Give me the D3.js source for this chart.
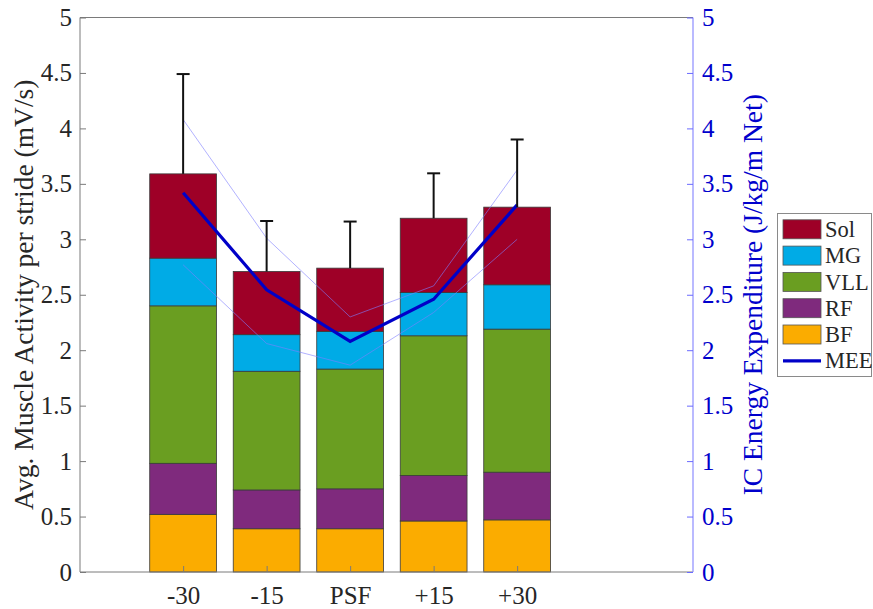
<!DOCTYPE html>
<html>
<head>
<meta charset="utf-8">
<script src="https://cdn.jsdelivr.net/npm/d3@7"></script>
<style>
  html, body { margin: 0; padding: 0; background: #fff; }
  svg { display: block; }
  svg text { font-family: "Liberation Serif", "Times New Roman", "DejaVu Serif", serif; }
</style>
</head>
<body>
<svg id="chart" width="873" height="609"></svg>
<script>
// Conditions on the x axis
const categories = ["-30", "-15", "PSF", "+15", "+30"];

// Mean muscle activity per stride (mV/s), stacked bottom to top
const BF  = [0.52, 0.39, 0.39, 0.46, 0.47];
const RF  = [0.46, 0.35, 0.36, 0.41, 0.43];
const VLL = [1.42, 1.07, 1.08, 1.26, 1.29];
const MG  = [0.43, 0.33, 0.34, 0.39, 0.40];
const Sol = [0.76, 0.57, 0.57, 0.67, 0.70];

// Upper error of the total activity
const errTop = [4.49, 3.165, 3.16, 3.595, 3.90];

// Metabolic energy expenditure (J/kg/m net) with its upper and lower band
const MEE      = [3.42, 2.545, 2.08, 2.46, 3.31];
const MEEupper = [4.08, 3.01, 2.30, 2.58, 3.625];
const MEElower = [2.77, 2.06, 1.865, 2.34, 3.00];

const muscles = ["BF", "RF", "VLL", "MG", "Sol"];
const muscleData = { BF, RF, VLL, MG, Sol };
const colors = {
  Sol: "#9e0027",
  MG:  "#00abe6",
  VLL: "#6a9e21",
  RF:  "#7f2a7d",
  BF:  "#fbac00"
};

const yTicks = [0, 0.5, 1, 1.5, 2, 2.5, 3, 3.5, 4, 4.5, 5];

const svg = d3.select("#chart");
const plotL = 80, plotR = 693, plotT = 17.5, plotB = 572;
const serif = "'Liberation Serif', 'Times New Roman', 'DejaVu Serif', serif";

// category index scale (index 0..4) with the axis limits padded on both sides
const x = d3.scaleLinear().domain([-1.235, 6.106]).range([plotL, plotR]);
const step = x(1) - x(0);
const barW = step * 0.8;
const yL = d3.scaleLinear().domain([0, 5]).range([plotB, plotT]);
const yR = d3.scaleLinear().domain([0, 5]).range([plotB, plotT]);

const tickFont = 25, labelFont = 27.5, legendFont = 22.5;

// stacked bars
const rows = categories.map((c, i) => {
  const r = { i };
  muscles.forEach(m => r[m] = muscleData[m][i]);
  return r;
});
const stacked = d3.stack().keys(muscles)(rows);

const gBars = svg.append("g");
stacked.forEach(layer => {
  gBars.selectAll(null)
    .data(layer)
    .enter()
    .append("rect")
    .attr("x", d => x(d.data.i) - barW / 2)
    .attr("width", barW)
    .attr("y", d => yL(d[1]))
    .attr("height", d => yL(d[0]) - yL(d[1]))
    .attr("fill", colors[layer.key])
    .attr("stroke", "#3a3a3a")
    .attr("stroke-width", 0.8);
});

// axes frame
const axisGray = "#7a7a7a";
svg.append("line").attr("x1", plotL).attr("x2", plotR).attr("y1", plotT).attr("y2", plotT)
  .attr("stroke", axisGray).attr("stroke-width", 1);
svg.append("line").attr("x1", plotL).attr("x2", plotR).attr("y1", plotB).attr("y2", plotB)
  .attr("stroke", axisGray).attr("stroke-width", 1);
svg.append("line").attr("x1", plotL).attr("x2", plotL).attr("y1", plotT).attr("y2", plotB)
  .attr("stroke", axisGray).attr("stroke-width", 1);
svg.append("line").attr("x1", plotR).attr("x2", plotR).attr("y1", plotT).attr("y2", plotB)
  .attr("stroke", "#8c8cff").attr("stroke-width", 1.2);

function styleTicks(g, color, tickColor) {
  g.attr("font-family", serif).attr("font-size", tickFont);
  g.select(".domain").remove();
  g.selectAll(".tick line").attr("stroke", tickColor);
  g.selectAll(".tick text").attr("fill", color).style("font-family", serif)
    .style("font-size", tickFont + "px");
}

// left axis (ticks point inward)
const leftAxis = d3.axisLeft(yL).tickValues(yTicks).tickSize(-6).tickPadding(8)
  .tickFormat(d3.format("~g"));
const gL = svg.append("g").attr("transform", `translate(${plotL},0)`).call(leftAxis);
styleTicks(gL, "#262626", axisGray);

// right axis
const rightAxis = d3.axisRight(yR).tickValues(yTicks).tickSize(-6).tickPadding(9)
  .tickFormat(d3.format("~g"));
const gR = svg.append("g").attr("transform", `translate(${plotR},0)`).call(rightAxis);
styleTicks(gR, "#0000cc", "#6b6bff");

// bottom axis
const bottomAxis = d3.axisBottom(x).tickValues(d3.range(categories.length))
  .tickSize(-6).tickPadding(16).tickFormat(i => categories[i]);
const gB = svg.append("g").attr("transform", `translate(0,${plotB})`).call(bottomAxis);
styleTicks(gB, "#262626", axisGray);
gB.selectAll(".tick text").attr("dy", null).attr("y", 31.5);

// MEE band lines
const line = d3.line().x((d, i) => x(i)).y(d => yR(d));
[MEEupper, MEElower].forEach(arr => {
  svg.append("path").attr("d", line(arr)).attr("fill", "none")
    .attr("stroke", "#7f7fff").attr("stroke-opacity", 0.6).attr("stroke-width", 1);
});

// MEE mean line
svg.append("path").attr("d", line(MEE)).attr("fill", "none")
  .attr("stroke", "#0000c8").attr("stroke-width", 3.2).attr("stroke-linejoin", "miter");

// error bars from the top of each stack
const totals = rows.map(r => muscles.reduce((s, m) => s + r[m], 0));
const gErr = svg.append("g").attr("stroke", "#111").attr("stroke-width", 2);
categories.forEach((c, i) => {
  gErr.append("line").attr("x1", x(i)).attr("x2", x(i))
    .attr("y1", yL(totals[i])).attr("y2", yL(errTop[i]));
  gErr.append("line").attr("x1", x(i) - 6.5).attr("x2", x(i) + 6.5)
    .attr("y1", yL(errTop[i])).attr("y2", yL(errTop[i]));
});

// axis titles (baseline on the right of the rotated text)
svg.append("text")
  .attr("transform", `translate(33,${(plotT + plotB) / 2}) rotate(-90)`)
  .attr("text-anchor", "middle")
  .attr("fill", "#262626").style("font-family", serif).style("font-size", labelFont + "px")
  .text("Avg. Muscle Activity per stride (mV/s)");

svg.append("text")
  .attr("transform", `translate(762,${(plotT + plotB) / 2}) rotate(-90)`)
  .attr("text-anchor", "middle")
  .attr("fill", "#0000cc").style("font-family", serif).style("font-size", labelFont + "px")
  .text("IC Energy Expenditure (J/kg/m Net)");

// legend
const legendItems = ["Sol", "MG", "VLL", "RF", "BF", "MEE"];
const lg = svg.append("g");
lg.append("rect").attr("x", 777.5).attr("y", 213.5).attr("width", 94).attr("height", 163)
  .attr("fill", "#fff").attr("stroke", "#8a8a8a").attr("stroke-width", 1);
legendItems.forEach((k, j) => {
  const cy = 229.3 + j * 26.3;
  if (k === "MEE") {
    lg.append("line").attr("x1", 783).attr("x2", 821).attr("y1", cy).attr("y2", cy)
      .attr("stroke", "#0000c8").attr("stroke-width", 3.2);
  } else {
    lg.append("rect").attr("x", 783).attr("y", cy - 9.5).attr("width", 38).attr("height", 19)
      .attr("fill", colors[k]).attr("stroke", "#555").attr("stroke-width", 0.8);
  }
  lg.append("text").attr("x", 825).attr("y", cy + 7.6)
    .attr("fill", "#262626").style("font-family", serif).style("font-size", legendFont + "px")
    .text(k);
});
</script>
</body>
</html>
